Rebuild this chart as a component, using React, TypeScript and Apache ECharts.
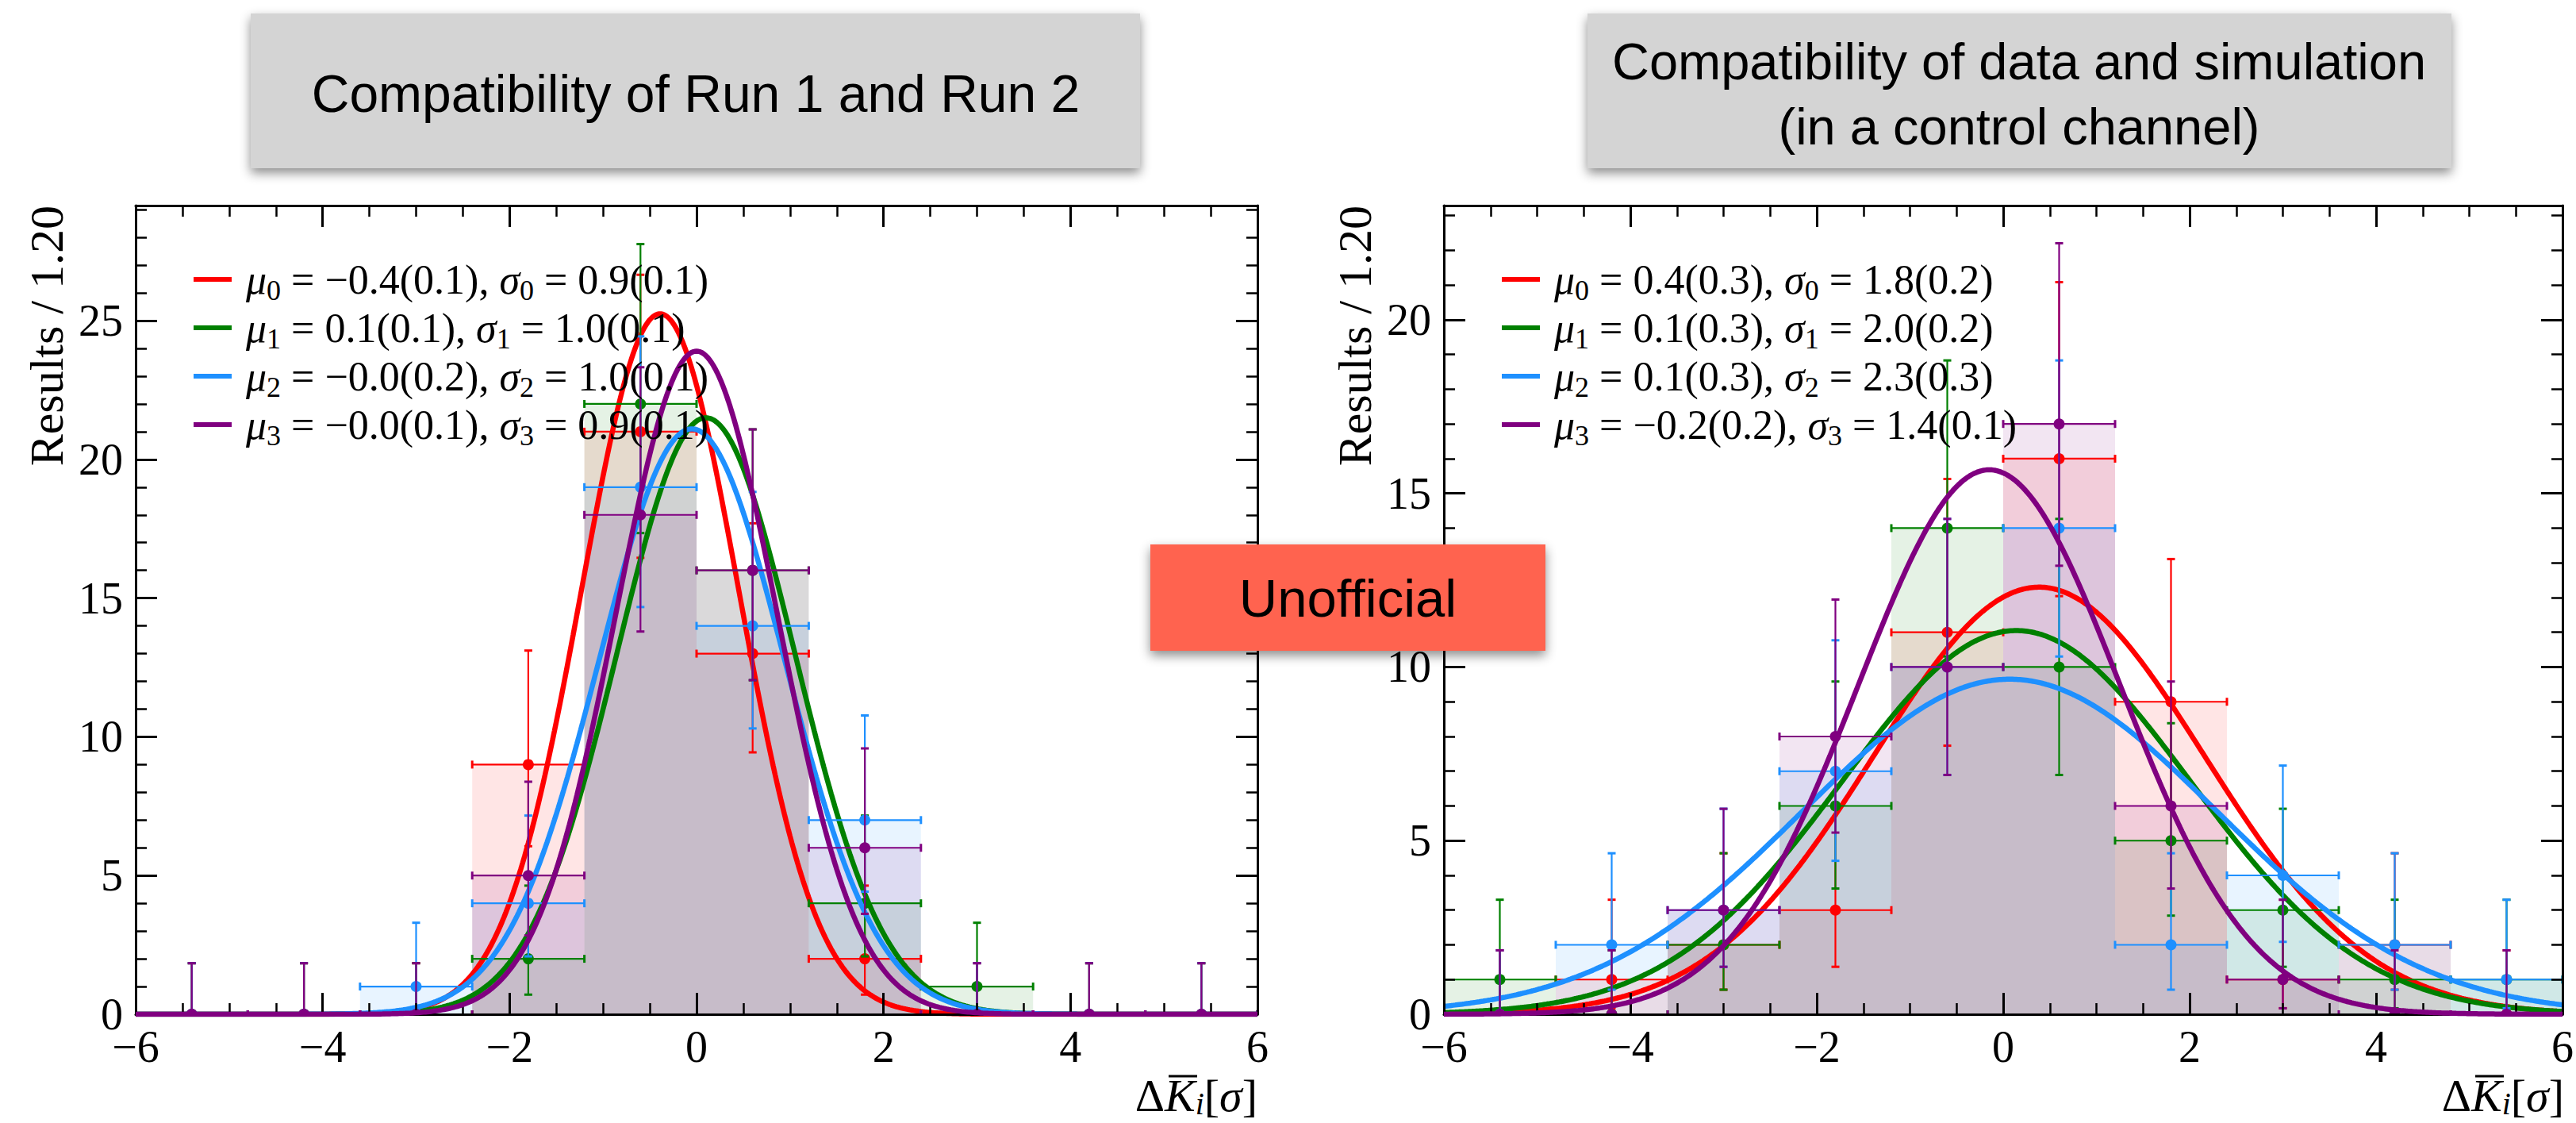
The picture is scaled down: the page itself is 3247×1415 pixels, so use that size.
import React, { useEffect, useRef } from 'react';
import * as echarts from 'echarts';

// ---------- data ----------
const binCenters = [-5.4, -4.2, -3.0, -1.8, -0.6, 0.6, 1.8, 3.0, 4.2, 5.4];
const binWidth = 1.2;

const seriesColors = ['#ff0000', '#008000', '#1e90ff', '#800080'];
const seriesFills = ['rgba(255,0,0,0.1)', 'rgba(0,128,0,0.1)', 'rgba(30,144,255,0.1)', 'rgba(128,0,128,0.1)'];

// Left panel: Compatibility of Run 1 and Run 2
const run12Red = [0, 0, 0, 9, 21, 13, 2, 0, 0, 0];
const run12Green = [0, 0, 0, 2, 22, 16, 4, 1, 0, 0];
const run12Blue = [0, 0, 1, 4, 19, 14, 7, 0, 0, 0];
const run12Purple = [0, 0, 0, 5, 18, 16, 6, 0, 0, 0];

// Right panel: Compatibility of data and simulation
const dataSimRed = [0, 1, 2, 3, 11, 16, 9, 1, 2, 0];
const dataSimGreen = [1, 0, 2, 6, 14, 10, 5, 3, 1, 1];
const dataSimBlue = [0, 2, 3, 7, 10, 14, 2, 4, 2, 1];
const dataSimPurple = [0, 0, 3, 8, 10, 17, 6, 1, 0, 0];

// Gaussian fit curves (centre, width, peak height as drawn)
const run12FitMu = [-0.39, 0.1, -0.05, 0.0];
const run12FitSigma = [0.84, 0.95, 0.99, 0.86];
const run12FitPeak = [25.25, 21.5, 21.1, 23.9];
const dataSimFitMu = [0.385, 0.14, 0.07, -0.15];
const dataSimFitSigma = [1.77, 1.87, 2.22, 1.4];
const dataSimFitPeak = [12.3, 11.05, 9.65, 15.68];

// Poisson (Garwood 68.3%) error bars for n = 0..23
const poissonLow = [0, 0.827, 1.292, 1.633, 1.914, 2.159, 2.379, 2.58, 2.768, 2.943, 3.108, 3.265, 3.415, 3.559, 3.697, 3.83, 3.958, 4.083, 4.204, 4.321, 4.435, 4.547, 4.655, 4.761];
const poissonHigh = [1.841, 2.299, 2.637, 2.918, 3.162, 3.382, 3.583, 3.77, 3.944, 4.11, 4.266, 4.416, 4.559, 4.697, 4.83, 4.958, 5.083, 5.204, 5.321, 5.435, 5.547, 5.655, 5.761, 5.865];

// Legend texts
const run12MuText = ['−0.4(0.1)', '0.1(0.1)', '−0.0(0.2)', '−0.0(0.1)'];
const run12SigmaText = ['0.9(0.1)', '1.0(0.1)', '1.0(0.1)', '0.9(0.1)'];
const dataSimMuText = ['0.4(0.3)', '0.1(0.3)', '0.1(0.3)', '−0.2(0.2)'];
const dataSimSigmaText = ['1.8(0.2)', '2.0(0.2)', '2.3(0.3)', '1.4(0.1)'];

const leftTitle = 'Compatibility of Run 1 and Run 2';
const rightTitle = 'Compatibility of data and simulation\n(in a control channel)';
const watermark = 'Unofficial';
const yAxisTitle = 'Results / 1.20';

const xMin = -6;
const xMax = 6;
const leftYMax = 29.15;
const rightYMax = 23.29;

// ---------- styling ----------
const serif = '"Liberation Serif", "DejaVu Serif", "Times New Roman", serif';
const sans = '"Liberation Sans", Arial, Helvetica, sans-serif';

const panels = [
  {
    counts: [run12Red, run12Green, run12Blue, run12Purple],
    mu: run12FitMu, sigma: run12FitSigma, peak: run12FitPeak,
    yMax: leftYMax,
    grid: { left: 171, top: 259, width: 1414, height: 1019 },
    muText: run12MuText, sigmaText: run12SigmaText,
  },
  {
    counts: [dataSimRed, dataSimGreen, dataSimBlue, dataSimPurple],
    mu: dataSimFitMu, sigma: dataSimFitSigma, peak: dataSimFitPeak,
    yMax: rightYMax,
    grid: { left: 1820, top: 259, width: 1412, height: 1019 },
    muText: dataSimMuText, sigmaText: dataSimSigmaText,
  },
];

function fmtTick(v: number) {
  return v < 0 ? '−' + Math.abs(v) : String(v);
}

function buildAxes(gi: number, yMax: number) {
  const xb = { type: 'value', gridIndex: gi, min: xMin, max: xMax, splitLine: { show: false }, z: 10 };
  const yb = { type: 'value', gridIndex: gi, min: 0, max: yMax, splitLine: { show: false }, z: 10 };
  const line = { show: true, onZero: false, lineStyle: { color: '#000', width: 3 } };
  const noLine = { show: false, onZero: false };
  const major = { show: true, inside: true, length: 27, lineStyle: { color: '#000', width: 3 } };
  const minor = { show: true, inside: true, length: 14, lineStyle: { color: '#000', width: 2.5 } };
  const xAxes = [
    { ...xb, position: 'bottom', interval: 2, axisLine: line, axisTick: major,
      axisLabel: { show: true, margin: 13, color: '#000', fontFamily: serif, fontSize: 56, formatter: fmtTick } },
    { ...xb, position: 'bottom', interval: 0.5, axisLine: noLine, axisTick: minor, axisLabel: { show: false } },
    { ...xb, position: 'top', interval: 2, axisLine: line, axisTick: major, axisLabel: { show: false } },
    { ...xb, position: 'top', interval: 0.5, axisLine: noLine, axisTick: minor, axisLabel: { show: false } },
  ];
  const yAxes = [
    { ...yb, position: 'left', interval: 5, axisLine: line, axisTick: major,
      axisLabel: { show: true, margin: 16, color: '#000', fontFamily: serif, fontSize: 56,
        formatter: (v: number) => (Math.abs(v % 5) < 1e-9 ? String(v) : '') } },
    { ...yb, position: 'left', interval: 1, axisLine: noLine, axisTick: minor, axisLabel: { show: false } },
    { ...yb, position: 'right', interval: 5, axisLine: line, axisTick: major, axisLabel: { show: false } },
    { ...yb, position: 'right', interval: 1, axisLine: noLine, axisTick: minor, axisLabel: { show: false } },
  ];
  return { xAxes, yAxes };
}

function stepData(counts: number[]) {
  const pts = binCenters.map((c, i) => [c - binWidth / 2, counts[i]]);
  const last = binCenters.length - 1;
  pts.push([binCenters[last] + binWidth / 2, counts[last]]);
  return pts;
}

function errData(counts: number[]) {
  return binCenters.map((c, i) => {
    const n = counts[i];
    return [c, n, n - poissonLow[n], n + poissonHigh[n]];
  });
}

function curveData(mu: number, sigma: number, peak: number) {
  const pts: number[][] = [];
  const steps = 600;
  for (let k = 0; k <= steps; k++) {
    const x = xMin + ((xMax - xMin) * k) / steps;
    pts.push([x, peak * Math.exp(-((x - mu) * (x - mu)) / (2 * sigma * sigma))]);
  }
  return pts;
}

function errRenderer(color: string) {
  return (params: any, api: any) => {
    const xc = api.value(0);
    const n = api.value(1);
    const lo = api.value(2);
    const hi = api.value(3);
    const pc = api.coord([xc, n]);
    const pl = api.coord([xc - binWidth / 2, n]);
    const pr = api.coord([xc + binWidth / 2, n]);
    const plo = api.coord([xc, lo]);
    const phi = api.coord([xc, hi]);
    const cap = 5;
    const ls = { stroke: color, lineWidth: 2.2 };
    const cs = { stroke: color, lineWidth: 3 };
    return {
      type: 'group',
      children: [
        { type: 'line', shape: { x1: pl[0], y1: pc[1], x2: pr[0], y2: pc[1] }, style: ls },
        { type: 'line', shape: { x1: pl[0], y1: pc[1] - cap, x2: pl[0], y2: pc[1] + cap }, style: cs },
        { type: 'line', shape: { x1: pr[0], y1: pc[1] - cap, x2: pr[0], y2: pc[1] + cap }, style: cs },
        { type: 'line', shape: { x1: pc[0], y1: plo[1], x2: pc[0], y2: phi[1] }, style: ls },
        { type: 'line', shape: { x1: pc[0] - cap, y1: plo[1], x2: pc[0] + cap, y2: plo[1] }, style: cs },
        { type: 'line', shape: { x1: pc[0] - cap, y1: phi[1], x2: pc[0] + cap, y2: phi[1] }, style: cs },
        { type: 'circle', shape: { cx: pc[0], cy: pc[1], r: 7 }, style: { fill: color } },
      ],
    };
  };
}

function txt(x: number, y: number, text: string, extra: any, z = 60) {
  return {
    type: 'text', x, y, z,
    style: { text, fill: '#000', align: 'center', verticalAlign: 'middle', textAlign: 'center', textVerticalAlign: 'middle', ...extra },
  };
}

function buildOption() {
  const xAxis: any[] = [];
  const yAxis: any[] = [];
  const series: any[] = [];
  const graphic: any[] = [];

  panels.forEach((p, gi) => {
    const ax = buildAxes(gi, p.yMax);
    xAxis.push(...ax.xAxes);
    yAxis.push(...ax.yAxes);
    const xi = gi * 4;
    const yi = gi * 4;
    p.counts.forEach((c, s) => {
      series.push({
        type: 'line', xAxisIndex: xi, yAxisIndex: yi, step: 'end', data: stepData(c),
        symbol: 'none', lineStyle: { opacity: 0, width: 0 }, areaStyle: { color: seriesFills[s], opacity: 1 },
        z: 1, silent: true,
      });
    });
    p.counts.forEach((c, s) => {
      series.push({
        type: 'custom', xAxisIndex: xi, yAxisIndex: yi, data: errData(c), clip: true,
        renderItem: errRenderer(seriesColors[s]), z: 3 + s * 2, silent: true,
      });
      series.push({
        type: 'line', xAxisIndex: xi, yAxisIndex: yi, data: curveData(p.mu[s], p.sigma[s], p.peak[s]),
        showSymbol: false, symbol: 'none', lineStyle: { color: seriesColors[s], width: 6.5 },
        z: 4 + s * 2, silent: true,
      });
    });

    // legend
    const lx = p.grid.left + 73;
    const rows = [352, 413, 474, 535];
    rows.forEach((ry, s) => {
      graphic.push({ type: 'line', z: 50, shape: { x1: lx, y1: ry, x2: lx + 48, y2: ry }, style: { stroke: seriesColors[s], lineWidth: 6 } });
      graphic.push({
        type: 'text', x: lx + 66, y: ry, z: 50,
        style: {
          text: `{g|μ}{s|${s}}{t| = ${p.muText[s]}, }{g|σ}{s|${s}}{t| = ${p.sigmaText[s]}}`,
          align: 'left', verticalAlign: 'middle', textAlign: 'left', textVerticalAlign: 'middle', fill: '#000',
          rich: {
            t: { fontFamily: serif, fontSize: 52, fill: '#000', color: '#000', verticalAlign: 'middle' },
            g: { fontFamily: serif, fontSize: 52, fontStyle: 'italic', fill: '#000', color: '#000', verticalAlign: 'middle' },
            s: { fontFamily: serif, fontSize: 36, fill: '#000', color: '#000', padding: [28, 0, 0, 0], verticalAlign: 'middle' },
          },
        },
      });
    });

    // y axis title
    graphic.push({
      type: 'text', x: p.grid.left - 112, y: p.grid.top, rotation: Math.PI / 2, z: 50,
      style: { text: yAxisTitle, fontFamily: serif, fontSize: 60, fill: '#000', align: 'right', verticalAlign: 'middle', textAlign: 'right', textVerticalAlign: 'middle' },
    });

    // x axis title
    const rx = p.grid.left + p.grid.width;
    graphic.push({
      type: 'text', x: rx, y: 1410, z: 50,
      style: {
        text: '{n|Δ}{k|K}{s|i}{n|[}{k|σ}{n|]}',
        align: 'right', verticalAlign: 'bottom', textAlign: 'right', textVerticalAlign: 'bottom', fill: '#000',
        rich: {
          n: { fontFamily: serif, fontSize: 58, fill: '#000', color: '#000' },
          k: { fontFamily: serif, fontSize: 58, fontStyle: 'italic', fill: '#000', color: '#000' },
          s: { fontFamily: serif, fontSize: 40, fontStyle: 'italic', fill: '#000', color: '#000', padding: [20, 0, 0, 0] },
        },
      },
    });
    graphic.push({ type: 'line', z: 50, shape: { x1: rx - 112, y1: 1356, x2: rx - 76, y2: 1356 }, style: { stroke: '#000', lineWidth: 3 } });
  });

  // titles
  const shadow = { shadowBlur: 14, shadowColor: 'rgba(0,0,0,0.45)', shadowOffsetX: 0, shadowOffsetY: 6 };
  graphic.push({ type: 'rect', z: 40, shape: { x: 316, y: 17, width: 1121, height: 195 }, style: { fill: '#d4d4d4', ...shadow } });
  graphic.push(txt(877, 118, leftTitle, { fontFamily: sans, fontSize: 66 }, 41));
  graphic.push({ type: 'rect', z: 40, shape: { x: 2001, y: 17, width: 1089, height: 195 }, style: { fill: '#d4d4d4', ...shadow } });
  graphic.push(txt(2545, 118, rightTitle, { fontFamily: sans, fontSize: 65, lineHeight: 82 }, 41));

  // watermark
  graphic.push({ type: 'rect', z: 100, shape: { x: 1450, y: 686, width: 498, height: 134 }, style: { fill: '#ff6450', ...shadow } });
  graphic.push(txt(1699, 753, watermark, { fontFamily: sans, fontSize: 67 }, 101));

  return {
    animation: false,
    backgroundColor: '#ffffff',
    grid: panels.map((p) => ({ ...p.grid, containLabel: false })),
    xAxis,
    yAxis,
    series,
    graphic: { elements: graphic },
  };
}

export default function App() {
  const ref = useRef<HTMLDivElement>(null);
  useEffect(() => {
    if (!ref.current) return;
    const chart = echarts.init(ref.current, undefined, { renderer: 'svg' });
    chart.setOption(buildOption() as any);
    return () => chart.dispose();
  }, []);
  return (
    <div
      ref={ref}
      style={{ position: 'fixed', left: 0, top: 0, width: 3247, height: 1415, background: '#ffffff' }}
    />
  );
}
